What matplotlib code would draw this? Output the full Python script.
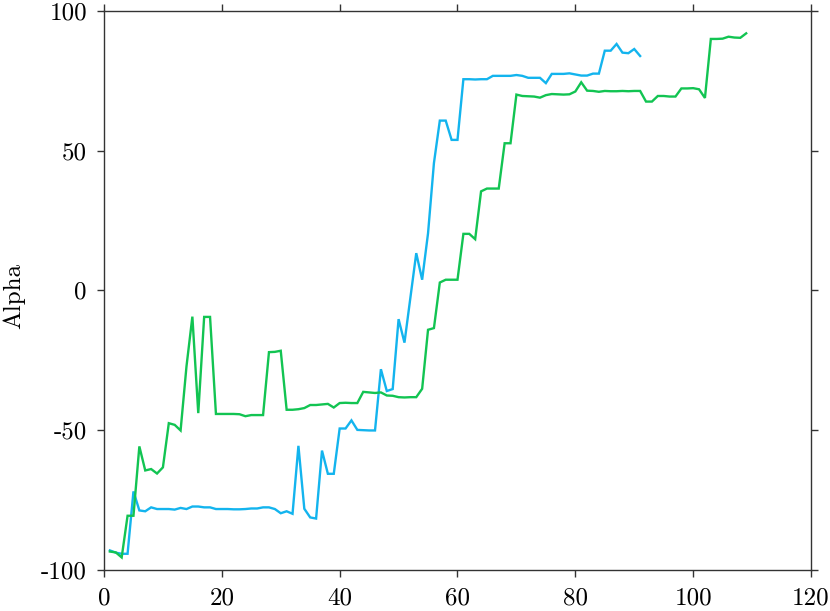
import matplotlib
matplotlib.use("Agg")
import matplotlib.pyplot as plt

plt.rcParams['font.family'] = ['cmr10', 'DejaVu Serif']
plt.rcParams['axes.unicode_minus'] = False
plt.rcParams['mathtext.fontset'] = 'cm'

blue_x = list(range(1, 92))
blue_y = [-93.0, -93.8, -94.2, -94.2, -71.9, -78.7, -79.0, -77.6, -78.2, -78.2,
          -78.2, -78.4, -77.8, -78.2, -77.3, -77.3, -77.6, -77.6, -78.2, -78.2,
          -78.2, -78.3, -78.3, -78.2, -78.0, -78.0, -77.6, -77.6, -78.2, -79.7,
          -79.0, -79.9, -55.6, -78.1, -81.2, -81.6, -57.3, -65.6, -65.6, -49.4,
          -49.4, -46.5, -49.9, -50.0, -50.1, -50.1, -28.2, -36.0, -35.3, -10.3,
          -18.7, -2.7, 13.3, 3.8, 20.4, 45.5, 60.7, 60.7, 53.8, 53.8,
          75.5, 75.5, 75.4, 75.5, 75.5, 76.7, 76.7, 76.7, 76.7, 77.0,
          76.7, 76.0, 76.0, 76.0, 74.1, 77.4, 77.4, 77.4, 77.6, 77.2,
          76.8, 76.8, 77.5, 77.5, 85.7, 85.7, 88.1, 85.0, 84.8, 86.3,
          83.8]

green_x = list(range(1, 110))
green_y = [-93.4, -93.7, -95.5, -80.6, -80.6, -55.8, -64.4, -63.9, -65.5, -63.3,
           -47.5, -48.1, -50.1, -27.2, -9.4, -43.9, -9.5, -9.5, -44.2, -44.2,
           -44.2, -44.2, -44.3, -45.0, -44.6, -44.6, -44.6, -22.1, -22.0, -21.6,
           -42.7, -42.7, -42.5, -42.1, -41.0, -41.0, -40.8, -40.6, -41.9, -40.3,
           -40.2, -40.3, -40.3, -36.3, -36.5, -36.7, -36.5, -37.6, -37.7, -38.2,
           -38.3, -38.2, -38.2, -35.2, -14.1, -13.5, 2.8, 3.8, 3.8, 3.8,
           20.2, 20.2, 18.3, 35.4, 36.4, 36.4, 36.4, 52.6, 52.6, 70.0,
           69.5, 69.4, 69.3, 68.9, 69.8, 70.2, 70.1, 70.0, 70.1, 71.1,
           74.4, 71.4, 71.3, 71.0, 71.3, 71.2, 71.2, 71.3, 71.2, 71.3,
           71.3, 67.5, 67.5, 69.5, 69.5, 69.3, 69.3, 72.2, 72.2, 72.3,
           71.9, 68.8, 89.9, 89.9, 90.0, 90.7, 90.4, 90.3, 91.9]

x_ticks = [0, 20, 40, 60, 80, 100, 120]
y_ticks = [-100, -50, 0, 50, 100]
y_labels = ['-100', '-50', '0', '50', '100']
y_title = 'Alpha'

fig = plt.figure(figsize=(8.30, 6.11), dpi=100)
ax = fig.add_axes([0.1253, 0.0671, 0.8518, 0.9154])
ax.plot(blue_x, blue_y, color='#13b4ee', lw=1.7, solid_joinstyle='miter')
ax.plot(green_x, green_y, color='#12c452', lw=1.7, solid_joinstyle='miter')

ax.set_xlim(0, 120)
ax.set_ylim(-100, 100)
ax.set_xticks(x_ticks)
ax.set_xticklabels([str(t) for t in x_ticks])
ax.set_yticks(y_ticks)
ax.set_yticklabels(y_labels)
ax.set_ylabel(y_title, fontsize=18)
ax.yaxis.set_label_coords(-0.111, 0.49)

ax.tick_params(axis='both', which='major', direction='out', length=5.3, width=1,
               color='#333333', labelsize=18, top=True, right=True,
               labeltop=False, labelright=False)
ax.tick_params(axis='x', pad=7.5)
ax.tick_params(axis='y', pad=7)
for s in ax.spines.values():
    s.set_linewidth(1.0)
    s.set_color('#333333')

fig.savefig('out.png', dpi=100)
